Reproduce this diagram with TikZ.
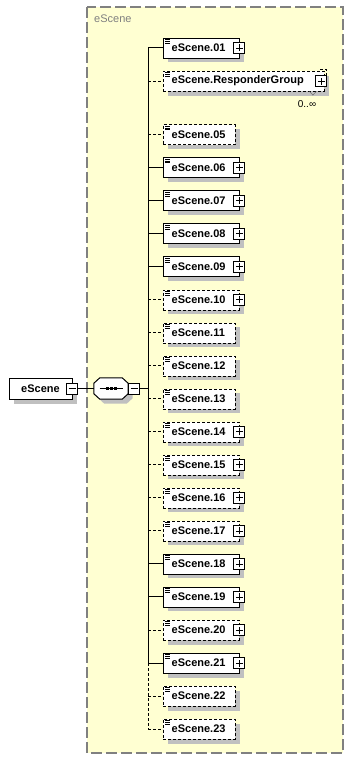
\documentclass[tikz,border=0pt]{standalone}
\usepackage{fontspec}
\setmainfont{Liberation Sans}
\usetikzlibrary{shadows}
\definecolor{groupfill}{HTML}{FFFFD2}
\definecolor{groupline}{HTML}{808080}
\definecolor{shade}{HTML}{C0C0C0}
\begin{document}
\begin{tikzpicture}[
  x=1pt, y=-1pt,
  shadowed/.style={general shadow={fill=shade, shadow xshift=4.5pt, shadow yshift=-4.5pt}},
  elem/.style={draw, fill=white, shadowed, anchor=west, minimum height=20pt, align=left,
    inner xsep=8.5pt, inner ysep=0pt, font=\fontsize{11}{13}\selectfont\bfseries,
    path picture={\draw[solid, line width=0.6pt]
      ([shift={(2pt,-1.6pt)}]path picture bounding box.north west) -- ++(5pt,0pt)
      ([shift={(2pt,-3.4pt)}]path picture bounding box.north west) -- ++(5pt,0pt)
      ([shift={(2pt,-5.2pt)}]path picture bounding box.north west) -- ++(5pt,0pt);}},
  wide/.style={elem, text width=59pt},
  narrow/.style={elem, text width=55pt},
  opt/.style={dash pattern=on 3pt off 2pt},
  plusbox/.style={draw, fill=white, line width=0.9pt, minimum size=11pt, inner sep=0pt,
    path picture={\draw[line width=0.8pt]
      ([xshift=-3.5pt]path picture bounding box.center) -- ++(7pt,0pt)
      ([yshift=-3.5pt]path picture bounding box.center) -- ++(0pt,7pt);}},
  minusbox/.style={draw, fill=white, line width=0.9pt, minimum size=11pt, inner sep=0pt,
    path picture={\draw[line width=0.8pt]
      ([xshift=-3.5pt]path picture bounding box.center) -- ++(7pt,0pt);}},
  rootbox/.style={draw, fill=white, shadowed, minimum width=63pt, minimum height=21pt,
    inner sep=0pt, font=\fontsize{11}{13}\selectfont\bfseries},
  seqbox/.style={minimum width=34pt, minimum height=21pt, inner sep=0pt},
  grouptitle/.style={anchor=west, inner sep=0pt, text=groupline, font=\fontsize{11}{13}\selectfont},
  mult/.style={inner sep=0pt, font=\fontsize{10}{12}\selectfont},
  link/.style={line width=1pt},
  optlink/.style={link, dash pattern=on 3pt off 2pt}
]
\useasboundingbox (0,0) rectangle (354,760);
% group frame
\draw[groupline, fill=groupfill, line width=1.2pt, dash pattern=on 11pt off 4pt] (87,7) rectangle (343,753);
\node[grouptitle] (title) at (94,19) {eScene};
% root and sequence
\node[rootbox] (root) at (40.5,388.5) {eScene};
\node[minusbox] (rootm) at (root.east) {};
\node[seqbox] (seq) at (111,388.5) {};
\draw[fill=white, shadowed, line width=1pt]
  ([xshift=6pt]seq.north west) -- ([xshift=-6pt]seq.north east)
  -- ([yshift=-5.5pt]seq.north east) -- ([yshift=5.5pt]seq.south east)
  -- ([xshift=-6pt]seq.south east) -- ([xshift=6pt]seq.south west)
  -- ([yshift=5.5pt]seq.south west) -- ([yshift=-5.5pt]seq.north west) -- cycle;
\draw[line width=1pt] ([xshift=-11.5pt]seq.center) -- ([xshift=11.5pt]seq.center);
\foreach \dx in {-4,0,4}
  \fill ([xshift=\dx pt]seq.center) +(-1.5pt,-1.5pt) rectangle +(1.5pt,1.5pt);
\node[minusbox, anchor=west] (seqm) at (seq.east) {};
\coordinate (trunk) at (148,388.5);
% children
\node[wide] (s01) at (163,48) {eScene.01};
\node[elem, opt, text width=144pt] (rg) at (163,81) {eScene.ResponderGroup};
\node[narrow, opt] (s05) at (163,134.5) {eScene.05};
\node[wide] (s06) at (163,167.5) {eScene.06};
\node[wide] (s07) at (163,200.6) {eScene.07};
\node[wide] (s08) at (163,233.6) {eScene.08};
\node[wide] (s09) at (163,266.6) {eScene.09};
\node[wide, opt] (s10) at (163,299.7) {eScene.10};
\node[narrow, opt] (s11) at (163,332.7) {eScene.11};
\node[narrow, opt] (s12) at (163,365.7) {eScene.12};
\node[narrow, opt] (s13) at (163,398.8) {eScene.13};
\node[wide, opt] (s14) at (163,431.8) {eScene.14};
\node[wide, opt] (s15) at (163,464.8) {eScene.15};
\node[wide, opt] (s16) at (163,497.8) {eScene.16};
\node[wide, opt] (s17) at (163,530.9) {eScene.17};
\node[wide] (s18) at (163,563.9) {eScene.18};
\node[wide] (s19) at (163,596.9) {eScene.19};
\node[wide, opt] (s20) at (163,630) {eScene.20};
\node[wide] (s21) at (163,663) {eScene.21};
\node[narrow, opt] (s22) at (163,696) {eScene.22};
\node[narrow, opt] (s23) at (163,729) {eScene.23};
% expand boxes
\node[plusbox] (s01p) at (s01.east) {};
\node[plusbox] (rgp) at ([xshift=-3pt]rg.east) {};
\node[plusbox] (s06p) at (s06.east) {};
\node[plusbox] (s07p) at (s07.east) {};
\node[plusbox] (s08p) at (s08.east) {};
\node[plusbox] (s09p) at (s09.east) {};
\node[plusbox] (s10p) at (s10.east) {};
\node[plusbox] (s14p) at (s14.east) {};
\node[plusbox] (s15p) at (s15.east) {};
\node[plusbox] (s16p) at (s16.east) {};
\node[plusbox] (s17p) at (s17.east) {};
\node[plusbox] (s18p) at (s18.east) {};
\node[plusbox] (s19p) at (s19.east) {};
\node[plusbox] (s20p) at (s20.east) {};
\node[plusbox] (s21p) at (s21.east) {};
% multiplicity of the responder group
\draw[opt] ([shift={(-4pt,2pt)}]rg.north east) -| ([shift={(2pt,-4pt)}]rg.north east);
\draw[black!60] ([shift={(-15pt,0pt)}]rg.south east) -- ++(3.5pt,-4pt) -- ++(3.5pt,4pt);
\node[mult] (rgmult) at (307,104) {0..∞};
% connectors
\draw[link] (rootm.east) -- (seq.west);
\draw[link] (seqm.east) -- (trunk);
\draw[link] (s01.west -| trunk) -- (s21.west -| trunk);
\draw[optlink] (s21.west -| trunk) -- (s23.west -| trunk);
\draw[link] (s01.west -| trunk) -- (s01.west);
\draw[optlink] (rg.west -| trunk) -- (rg.west);
\draw[optlink] (s05.west -| trunk) -- (s05.west);
\draw[link] (s06.west -| trunk) -- (s06.west);
\draw[link] (s07.west -| trunk) -- (s07.west);
\draw[link] (s08.west -| trunk) -- (s08.west);
\draw[link] (s09.west -| trunk) -- (s09.west);
\draw[optlink] (s10.west -| trunk) -- (s10.west);
\draw[optlink] (s11.west -| trunk) -- (s11.west);
\draw[optlink] (s12.west -| trunk) -- (s12.west);
\draw[optlink] (s13.west -| trunk) -- (s13.west);
\draw[optlink] (s14.west -| trunk) -- (s14.west);
\draw[optlink] (s15.west -| trunk) -- (s15.west);
\draw[optlink] (s16.west -| trunk) -- (s16.west);
\draw[optlink] (s17.west -| trunk) -- (s17.west);
\draw[link] (s18.west -| trunk) -- (s18.west);
\draw[link] (s19.west -| trunk) -- (s19.west);
\draw[optlink] (s20.west -| trunk) -- (s20.west);
\draw[link] (s21.west -| trunk) -- (s21.west);
\draw[optlink] (s22.west -| trunk) -- (s22.west);
\draw[optlink] (s23.west -| trunk) -- (s23.west);
\end{tikzpicture}
\end{document}
